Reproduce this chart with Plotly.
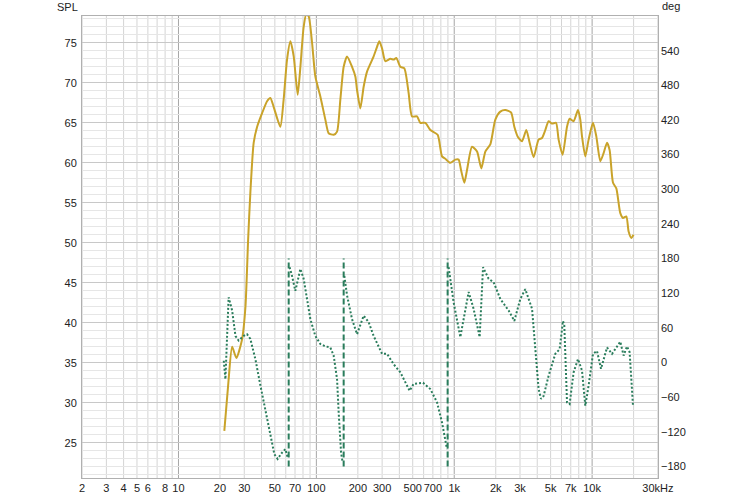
import math
import plotly.graph_objects as go

# ---------------- data ----------------
spl_hz = [21.5, 23.0, 24.5, 26.3, 28.9, 30.6, 32.0, 33.2, 35.1, 37.2, 40.4, 43.9, 46.4, 49.0,
          54.8, 57.9, 61.3, 64.8, 68.5, 73.2, 76.6, 80.9, 84.6, 88.0, 93.1, 98.3, 106.9, 116.2,
          122.8, 133.5, 141.3, 149.3, 157.8, 167.0, 181.5, 191.8, 197.3, 208.5, 220.3, 233.1,
          260.3, 275.5, 286.3, 299.5, 316.5, 344.1, 363.5, 380.3, 406.6, 434.6, 467.0, 494.3,
          537.3, 567.8, 617.2, 670.9, 758.0, 815.6, 861.9, 937.0, 1019, 1076, 1120, 1184, 1238,
          1346, 1464, 1572, 1681, 1827, 1986, 2159, 2347, 2582, 2728, 2883, 3102, 3333, 3523,
          3765, 4093, 4332, 4577, 4836, 5119, 5473, 5716, 6110, 6577, 6868, 7342, 7901, 8211,
          8450, 8926, 9433, 10150, 10727, 11468, 12118, 12828, 13396, 14180, 14983, 16015,
          16755, 17702, 18396, 19245, 19994]
spl_db = [26.5, 32.5, 37.0, 35.6, 37.9, 42.0, 50.4, 56.2, 62.5, 64.5, 66.2, 67.7, 68.1, 67.0,
          64.5, 67.9, 72.9, 75.2, 73.3, 68.5, 72.0, 77.0, 78.6, 78.3, 75.0, 70.8, 68.3, 65.4,
          63.7, 63.5, 63.9, 67.9, 72.0, 73.3, 72.0, 70.8, 69.1, 66.8, 69.5, 71.4,
          73.3, 74.5, 75.2, 74.3, 72.7, 73.0, 72.9, 73.1, 72.0, 71.8, 68.7, 65.8,
          65.8, 65.0, 65.0, 64.1, 63.5, 60.8, 60.5, 60.0, 60.4, 60.4, 59.1, 57.5, 59.1,
          62.0, 61.4, 59.3, 61.4, 62.3, 65.4, 66.4, 66.6, 66.3, 64.5, 63.3, 62.7, 64.1, 62.5,
          60.7, 62.9, 63.1, 64.1, 65.2, 64.9, 65.0, 62.9, 61.0, 64.5, 65.5, 65.2, 66.6, 65.4,
          63.3, 60.8, 62.9, 65.0, 63.3, 60.2, 61.2, 62.5, 61.6, 57.5, 56.8, 53.7,
          53.1, 53.3, 51.4, 50.6, 51.0]

phase_hz = [21.3, 21.9, 23.1, 24.5, 25.9, 27.3, 29.7, 31.4, 33.2, 36.1, 39.3, 42.7, 46.4, 49.6,
            52.4, 56.4, 59.6, 61.9,
            64.0, 66.6, 70.4, 76.6, 80.9, 85.6, 90.5, 98.3, 106.9, 116.2, 126.3, 133.5, 141.3,
            145.1, 151.1, 155.1,
            159.6, 167.0, 181.5, 197.3, 220.3, 239.5, 260.3, 299.5, 325.6, 363.5, 406.6, 441.9,
            474.9, 507.7, 593.9, 670.9, 750.5, 815.6, 861.9, 886.7,
            910.7, 990, 1107, 1272, 1382, 1529, 1618, 1776, 1931, 2159, 2480, 2728, 3015, 3278,
            3667, 3874, 4093, 4260, 4449, 4836, 5409, 5813, 6151, 6286, 6577, 6868, 7342, 7901,
            8450, 8926, 9433, 10150, 10851, 11600, 12828, 13944, 16015, 16923, 17910, 18707,
            19797]
phase_deg = [3, -29, 113, 90, 46, 38, 46, 49, 41, 6, -40, -81, -127, -159,
             -167, -156, -150, -164,
             165, 150, 124, 162, 145, 110, 75, 46, 32, 28, 26, 12, -29,
             -86, -156, -173,
             150, 116, 75, 49, 81, 70, 46, 15, 15, -3, -17, -34,
             -49, -37, -35, -46, -69, -104, -133, -150,
             165, 104, 44, 122, 93, 44, 165, 145, 139, 110, 90, 72, 110, 127,
             93, 23, -46, -63, -58, -23, 15, 23, 72, 64, -69, -72, -17, 6,
             -14, -75, -40, 15, 20, -11, 26, 15, 36, 12, 28, 18,
             -75]

phase_wrap_hz = [63.0, 157.8, 895.6]

x_ticks = [2, 3, 4, 5, 6, 8, 10, 20, 30, 50, 70, 100, 200, 300, 500, 700,
           1000, 2000, 3000, 5000, 7000, 10000, 30000]
x_tick_labels = ["2", "3", "4", "5", "6", "8", "10", "20", "30", "50", "70", "100", "200",
                 "300", "500", "700", "1k", "2k", "3k", "5k", "7k", "10k", "30kHz"]
spl_ticks = [25, 30, 35, 40, 45, 50, 55, 60, 65, 70, 75]
deg_ticks = [-180, -120, -60, 0, 60, 120, 180, 240, 300, 360, 420, 480, 540]

# ---------------- styling ----------------
FONT = "Liberation Sans, Arial, Helvetica, sans-serif"
FS = 11
GOLD = "#c9a32a"
GREEN = "#2a7d5c"

grid_x = []
for dec in [1, 10, 100, 1000, 10000]:
    for m in range(1, 10):
        v = m * dec
        if 2 <= v <= 30000:
            grid_x.append(v)

# split phase curve at wraps
ph_x, ph_y = [], []
for i, (f, d) in enumerate(zip(phase_hz, phase_deg)):
    if i > 0 and abs(d - phase_deg[i - 1]) > 180:
        ph_x.append(None)
        ph_y.append(None)
    ph_x.append(f)
    ph_y.append(d)

fig = go.Figure()

fig.add_trace(go.Scatter(x=spl_hz, y=spl_db, mode="lines", yaxis="y",
                         line=dict(color=GOLD, width=2, shape="spline", smoothing=0.6),
                         showlegend=False, hoverinfo="x+y"))
fig.add_trace(go.Scatter(x=ph_x, y=ph_y, mode="lines", yaxis="y2",
                         line=dict(color=GREEN, width=2, dash="2px,2px"),
                         showlegend=False, connectgaps=False))
for w in phase_wrap_hz:
    fig.add_trace(go.Scatter(x=[w, w], y=[-180, 180], mode="lines", yaxis="y2",
                             line=dict(color=GREEN, width=2, dash="6px,3px"),
                             showlegend=False))

# light grid lines at every 1..9 multiple, darker at decades
for v in grid_x:
    dec = abs(math.log10(v) - round(math.log10(v))) < 1e-9
    fig.add_shape(type="line", xref="x", yref="paper", x0=v, x1=v, y0=0, y1=1,
                  line=dict(color="#a6a6a6" if dec else "#d4d4d4", width=1), layer="below")

fig.update_layout(
    width=750, height=500,
    margin=dict(l=82, r=92, t=16, b=22, autoexpand=False),
    paper_bgcolor="white", plot_bgcolor="white",
    font=dict(family=FONT, size=FS, color="#222"),
    xaxis=dict(type="log",
               range=[math.log10(2) - 0.0008, math.log10(30000) + 0.0008],
               tickmode="array", tickvals=x_ticks, ticktext=x_tick_labels,
               tickangle=0, automargin=False,
               showgrid=False,
               showline=True, linecolor="#b0b0b0", mirror=True,
               ticks="", zeroline=False, tickfont=dict(size=FS)),
    yaxis=dict(range=[20.6, 78.35], tickmode="array", tickvals=spl_ticks,
               showgrid=True, gridcolor="#c8c8c8", gridwidth=1, automargin=False,
               minor=dict(dtick=1, tick0=0, showgrid=True, gridcolor="#e6e6e6"),
               showline=True, linecolor="#b0b0b0", mirror=True,
               ticks="", zeroline=False, ticklabelstandoff=2),
    yaxis2=dict(range=[-200, 600], overlaying="y", side="right", automargin=False,
                tickmode="array", tickvals=deg_ticks, showgrid=False,
                ticks="", zeroline=False, showline=False, ticklabelstandoff=2),
    annotations=[
        dict(text="SPL", xref="paper", yref="paper", x=-0.004, y=1.019,
             xanchor="right", yanchor="middle", showarrow=False,
             font=dict(family=FONT, size=FS, color="#222")),
        dict(text="deg", xref="paper", yref="paper", x=1.004, y=1.021,
             xanchor="left", yanchor="middle", showarrow=False,
             font=dict(family=FONT, size=FS, color="#222")),
    ],
)

fig.write_html("out.html")
